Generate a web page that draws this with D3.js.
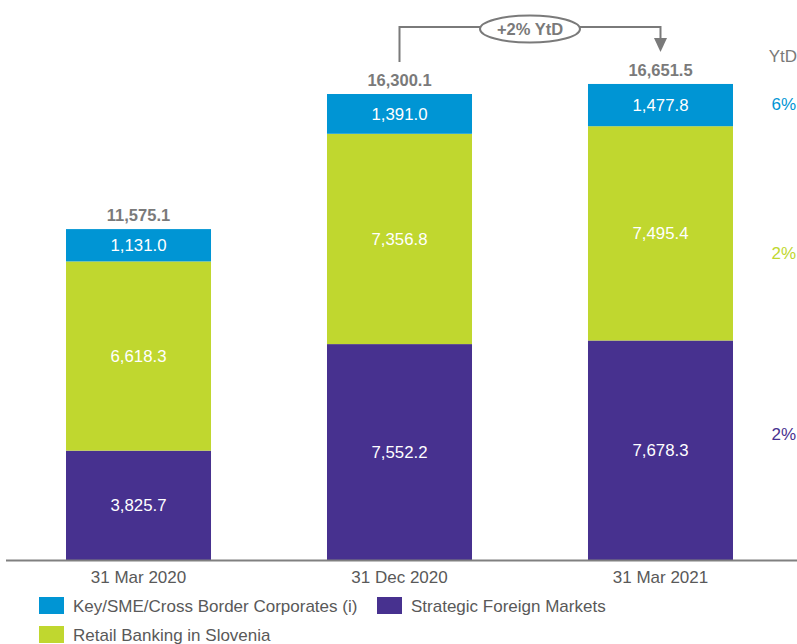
<!DOCTYPE html>
<html>
<head>
<meta charset="utf-8">
<script src="https://cdn.jsdelivr.net/npm/d3@7"></script>
<style>
  html, body { margin: 0; padding: 0; background: #fff; }
  svg { display: block; font-family: Arial, "Liberation Sans", sans-serif; }
</style>
</head>
<body>
<svg id="chart" width="797" height="644"></svg>
<script>
// Periods and segment values (EUR m)
const periods = ["31 Mar 2020", "31 Dec 2020", "31 Mar 2021"];
const strategicForeign = [3825.7, 7552.2, 7678.3];
const retailSlovenia = [6618.3, 7356.8, 7495.4];
const keyCorporates = [1131.0, 1391.0, 1477.8];
const totals = [11575.1, 16300.1, 16651.5];
const seriesNames = ["Key/SME/Cross Border Corporates (i)", "Strategic Foreign Markets", "Retail Banking in Slovenia"];
const ytdChanges = ["6%", "2%", "2%"]; // key, retail, strategic
const ytdTotal = "+2% YtD";

const colors = { key: "#0095d4", retail: "#c0d72f", sfm: "#47318f" };
const grey = "#7a7a7a";

const svg = d3.select("#chart");

const x = d3.scaleBand().domain(periods).range([13.8, 785.2]).paddingInner(0.4444).paddingOuter(0.2);
const y = d3.scaleLinear().domain([0, 17000]).range([560, 74]);

const rows = periods.map((p, i) => ({ period: p, sfm: strategicForeign[i], retail: retailSlovenia[i], key: keyCorporates[i], total: totals[i] }));
const stack = d3.stack().keys(["sfm", "retail", "key"]);
const layers = stack(rows);
const fmt = d3.format(",.1f");

// Stacked bars
const g = svg.append("g");
layers.forEach(layer => {
  g.selectAll(null).data(layer).join("rect")
    .attr("x", d => x(d.data.period))
    .attr("width", x.bandwidth())
    .attr("y", d => y(d[1]))
    .attr("height", d => y(d[0]) - y(d[1]))
    .attr("fill", colors[layer.key]);
  g.selectAll(null).data(layer).join("text")
    .attr("x", d => x(d.data.period) + x.bandwidth() / 2)
    .attr("y", d => (y(d[0]) + y(d[1])) / 2 + 6)
    .attr("text-anchor", "middle")
    .attr("fill", "#fff")
    .attr("font-size", 16.8)
    .text(d => fmt(d[1] - d[0]));
});

// Totals above bars
g.selectAll(null).data(rows).join("text")
  .attr("x", d => x(d.period) + x.bandwidth() / 2)
  .attr("y", d => y(d.total) - 8)
  .attr("text-anchor", "middle")
  .attr("fill", grey)
  .attr("font-size", 16.5)
  .attr("font-weight", "bold")
  .text(d => fmt(d.total));

// Category axis
const axis = svg.append("g").attr("transform", "translate(0,560)");
axis.append("line").attr("x1", 6).attr("x2", 797).attr("y1", 0.5).attr("y2", 0.5)
  .attr("stroke", "#808080").attr("stroke-width", 2);
axis.selectAll(null).data(periods).join("text")
  .attr("x", d => x(d) + x.bandwidth() / 2)
  .attr("y", 23)
  .attr("text-anchor", "middle")
  .attr("fill", "#595959")
  .attr("font-size", 17)
  .text(d => d);

// YtD column
const ytd = svg.append("g").attr("font-size", 17);
ytd.append("text").attr("x", 797).attr("y", 62).attr("text-anchor", "end").attr("fill", grey).text("YtD");
const ytdRows = [
  { txt: ytdChanges[0], c: colors.key, yy: 110 },
  { txt: ytdChanges[1], c: colors.retail, yy: 259 },
  { txt: ytdChanges[2], c: colors.sfm, yy: 440 }
];
ytd.selectAll(null).data(ytdRows).join("text")
  .attr("x", 796).attr("y", d => d.yy).attr("text-anchor", "end")
  .attr("fill", d => d.c).text(d => d.txt);

// Year-to-date growth connector
const cx1 = x(periods[1]) + x.bandwidth() / 2;
const cx2 = x(periods[2]) + x.bandwidth() / 2;
const ann = svg.append("g");
ann.append("path")
  .attr("d", `M${cx1},62 V27 H${cx2} V40`)
  .attr("fill", "none").attr("stroke", grey).attr("stroke-width", 2);
ann.append("path")
  .attr("d", `M${cx2 - 6.5},38 L${cx2 + 6.5},38 L${cx2},52 Z`)
  .attr("fill", grey);
ann.append("ellipse").attr("cx", 530).attr("cy", 29).attr("rx", 50).attr("ry", 13.5)
  .attr("fill", "#fff").attr("stroke", grey).attr("stroke-width", 2);
ann.append("text").attr("x", 530).attr("y", 35).attr("text-anchor", "middle")
  .attr("fill", grey).attr("font-size", 16.5).attr("font-weight", "bold").text(ytdTotal);

// Legend
const legendItems = [
  { name: seriesNames[0], c: colors.key, lx: 39, ly: 597 },
  { name: seriesNames[1], c: colors.sfm, lx: 377, ly: 597 },
  { name: seriesNames[2], c: colors.retail, lx: 39, ly: 626 }
];
const lg = svg.append("g");
lg.selectAll(null).data(legendItems).join("rect")
  .attr("x", d => d.lx).attr("y", d => d.ly).attr("width", 25).attr("height", 17).attr("fill", d => d.c);
lg.selectAll(null).data(legendItems).join("text")
  .attr("x", d => d.lx + 34).attr("y", d => d.ly + 15)
  .attr("fill", "#595959").attr("font-size", 17).text(d => d.name);
</script>
</body>
</html>
